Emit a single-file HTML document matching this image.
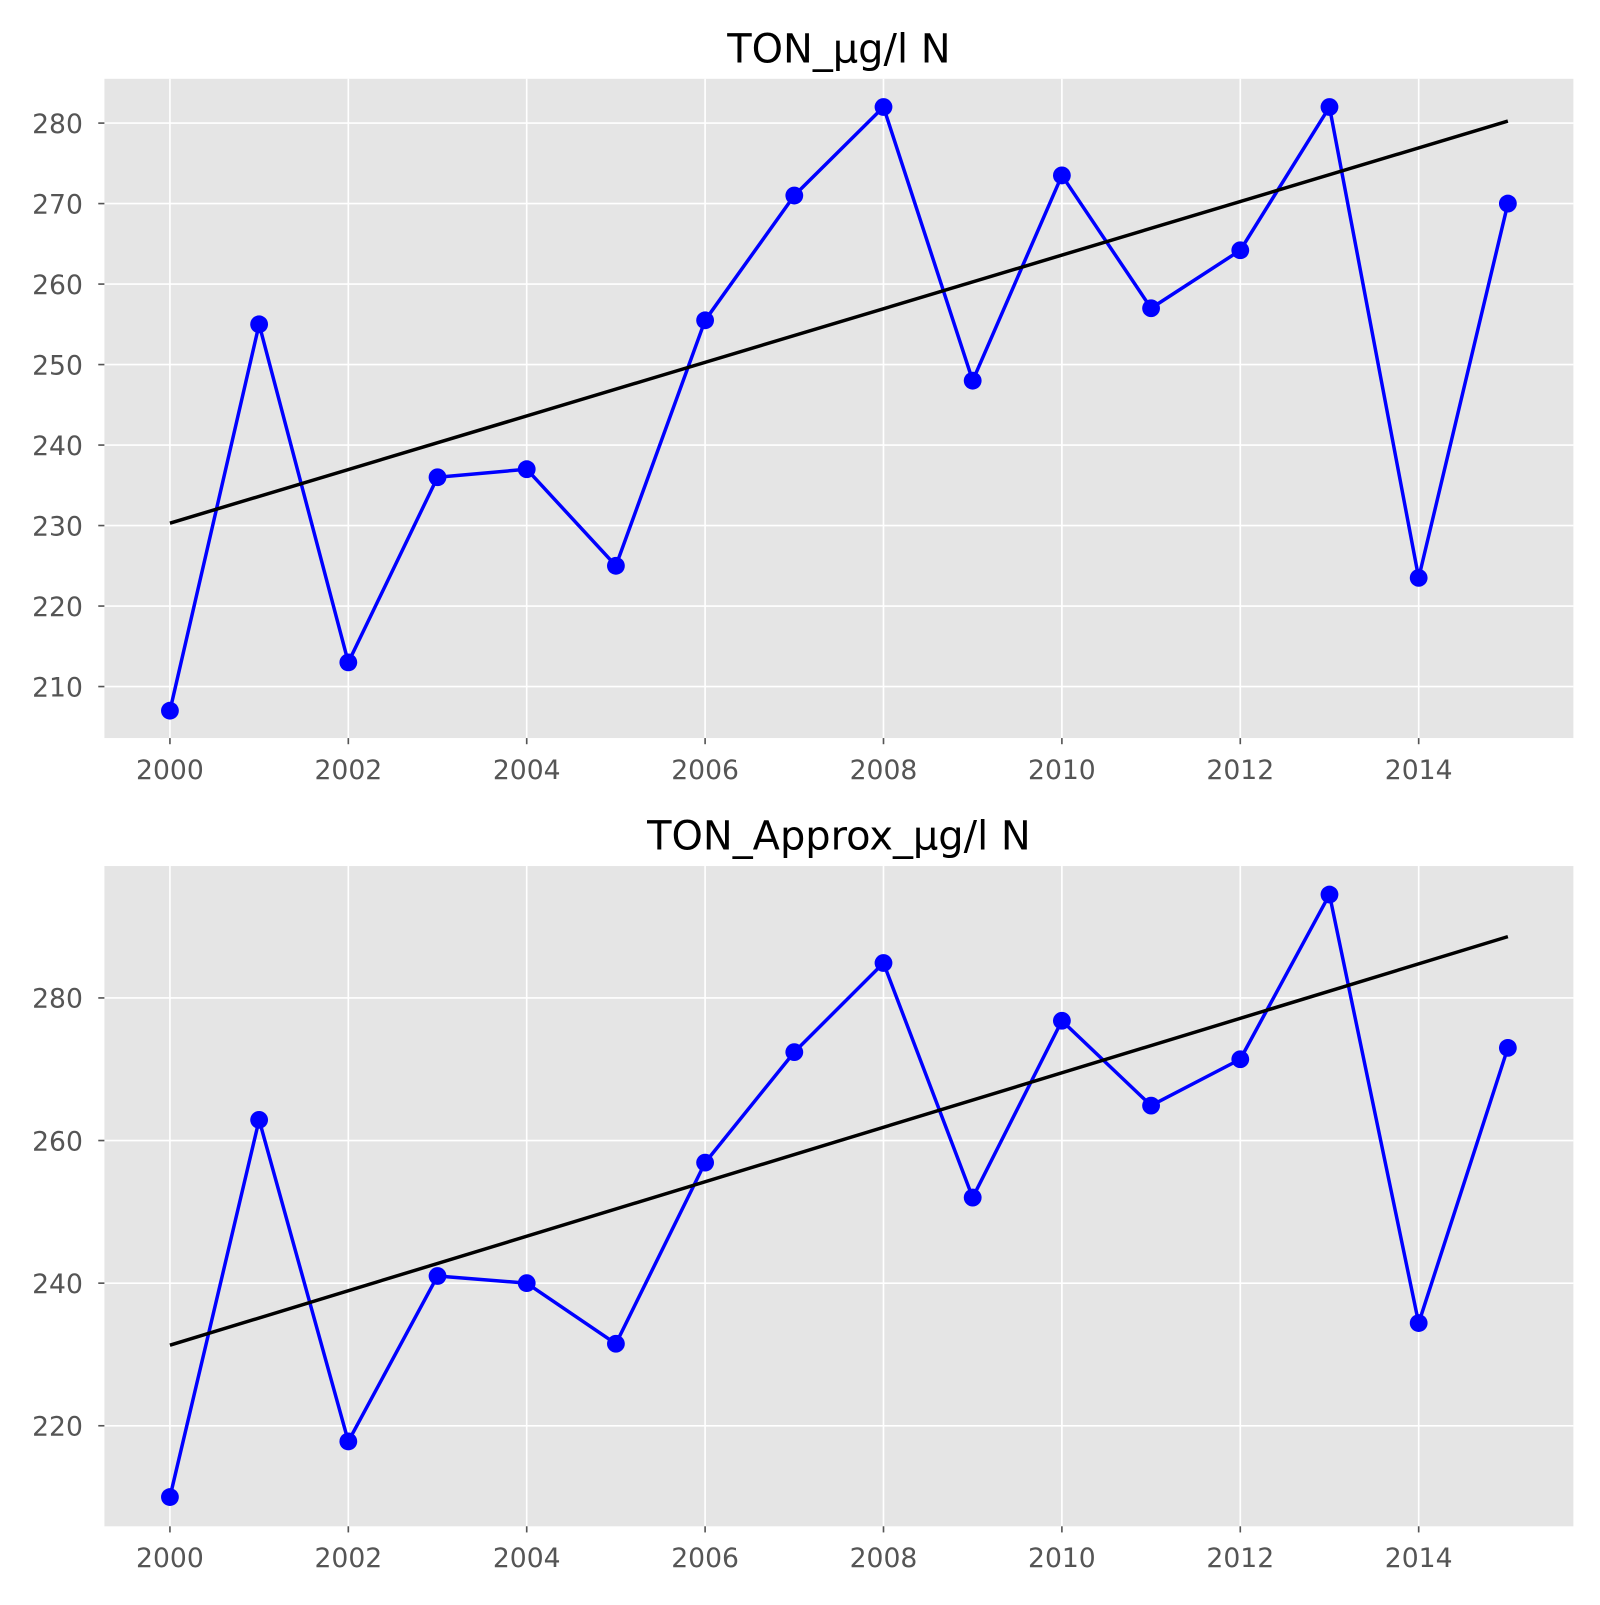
<!DOCTYPE html>
<html><head><meta charset="utf-8">
<style>
html,body{margin:0;padding:0;background:#fff;}
svg text{font-family:"DejaVu Sans","Liberation Sans",sans-serif;}
</style></head>
<body>
<svg id="chart" width="1600" height="1600" viewBox="0 0 1563 1563" xmlns="http://www.w3.org/2000/svg"></svg>
<script>
const years = [2000,2001,2002,2003,2004,2005,2006,2007,2008,2009,2010,2011,2012,2013,2014,2015];
const tonValues = [207,255,213,236,237,225,255.5,271,282,248,273.5,257,264.2,282,223.5,270];
const tonTrend = [230.3,280.25];
const approxValues = [210,262.9,217.8,241,240,231.5,256.9,272.4,284.9,252,276.8,264.9,271.4,294.5,234.4,273];
const approxTrend = [231.3,288.6];
const xTicks = [2000,2002,2004,2006,2008,2010,2012,2014];
const tonYTicks = [210,220,230,240,250,260,270,280];
const approxYTicks = [220,240,260,280];
const titles = ["TON_µg/l N","TON_Approx_µg/l N"];

const NS="http://www.w3.org/2000/svg";
const svg=document.getElementById('chart');
function mk(tag,attrs,parent){const e=document.createElementNS(NS,tag);for(const k in attrs)e.setAttribute(k,attrs[k]);(parent||svg).appendChild(e);return e;}

function panel(idx,top,bottom,yMin,yMax,vals,trend,yTicks,title){
  const left=102,right=1537;
  const xs=v=>166+(v-2000)*(1473-166)/15;
  const ys=v=>bottom-(v-yMin)/(yMax-yMin)*(bottom-top);
  const g=mk('g',{});
  
  
  const bg=mk('rect',{x:left,y:top,width:right-left,height:bottom-top,fill:'#e5e5e5'},g);
  
  
  xTicks.forEach(t=>{
    const x=xs(t);
    const gl=mk('line',{x1:x,x2:x,y1:top,y2:bottom,stroke:'#fff','stroke-width':1.6},g);
    
    
    mk('line',{x1:x,x2:x,y1:bottom,y2:bottom+6,stroke:'#555','stroke-width':1.6},g);
    const tx=mk('text',{x:x,y:bottom+40,'text-anchor':'middle','font-size':26,fill:'#555'},g);
    tx.textContent=t;
    
    
  });
  yTicks.forEach(t=>{
    const y=ys(t);
    const gl=mk('line',{x1:left,x2:right,y1:y,y2:y,stroke:'#fff','stroke-width':1.6},g);
    
    
    mk('line',{x1:left-6,x2:left,y1:y,y2:y,stroke:'#555','stroke-width':1.6},g);
    const tx=mk('text',{x:left-21,y:y+9.5,'text-anchor':'end','font-size':26,fill:'#555'},g);
    tx.textContent=t;
    
    
  });
  const pts=vals.map((v,i)=>xs(years[i])+','+ys(v)).join(' ');
  const pl=mk('polyline',{points:pts,fill:'none',stroke:'#0000ff','stroke-width':3.4,'stroke-linejoin':'round'},g);
  
  
  const tl=mk('line',{x1:xs(years[0]),y1:ys(trend[0]),x2:xs(years[years.length-1]),y2:ys(trend[1]),stroke:'#000','stroke-width':3.4},g);
  
  
  vals.forEach((v,i)=>{
    const c=mk('circle',{cx:xs(years[i]),cy:ys(v),r:8.7,fill:'#0000ff'},g);
    
    
  });
  const tt=mk('text',{x:(left+right)/2,y:top-16,'text-anchor':'middle','font-size':39,fill:'#000'},g);
  tt.textContent=title;
  
  
}
panel(0,77,721,203.6,285.5,tonValues,tonTrend,tonYTicks,titles[0]);
panel(1,846,1491,205.9,298.5,approxValues,approxTrend,approxYTicks,titles[1]);
</script>
</body></html>
